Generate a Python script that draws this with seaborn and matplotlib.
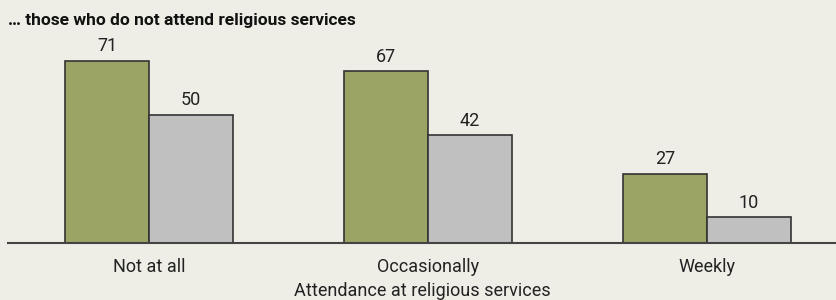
import matplotlib
matplotlib.use("Agg")
import matplotlib.pyplot as plt
import pandas as pd
import seaborn as sns

# data
categories = ["Not at all", "Occasionally", "Weekly"]
series_names = ["Series A", "Series B"]
series_a = [71, 67, 27]
series_b = [50, 42, 10]

title = "\u2026 those who do not attend religious services"
x_title = "Attendance at religious services"

df = pd.DataFrame({
    "attendance": categories * 2,
    "series": [series_names[0]] * 3 + [series_names[1]] * 3,
    "value": series_a + series_b,
})

sns.set_style("white")
plt.rcParams["font.family"] = ["Roboto", "DejaVu Sans"]

bg = "#efeee6"
fig = plt.figure(figsize=(8.37, 3.0), dpi=100, facecolor=bg)
ax = fig.add_axes([8 / 837, 57 / 300, 829 / 837, 220 / 300])
ax.set_facecolor(bg)

sns.barplot(data=df, x="attendance", y="value", hue="series",
            palette=["#9ca465", "#c0c0c0"], saturation=1, width=0.6, dodge=True,
            edgecolor="#333333", linewidth=1.2, legend=False, ax=ax)

for c in ax.containers:
    ax.bar_label(c, padding=4, fontsize=13, color="#222222")

ax.set_xlim(-0.505, 2.466)
ax.set_ylim(0, 220 / 2.563)
ax.set_yticks([])
ax.set_ylabel("")
ax.set_xlabel(x_title, fontsize=13, color="#222222", labelpad=4)
ax.tick_params(axis="x", length=0, labelsize=13, labelcolor="#222222", pad=11)
for s in ["top", "left", "right"]:
    ax.spines[s].set_visible(False)
ax.spines["bottom"].set_color("#444444")
ax.spines["bottom"].set_linewidth(1.5)

fig.text(8 / 837, 1 - 21 / 300, title, fontsize=12.5, fontweight="bold",
         va="center", ha="left", color="#111111")

fig.savefig("out.png", dpi=100, facecolor=bg)
